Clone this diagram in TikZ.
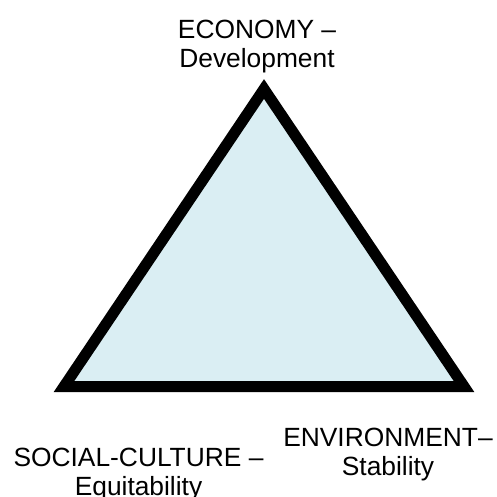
\documentclass[tikz,border=0pt]{standalone}
\usepackage{fontspec}
\setmainfont{Liberation Sans}
\usetikzlibrary{positioning}
\definecolor{paleblue}{HTML}{DAEEF3}

\begin{document}
\begin{tikzpicture}[x=0.02cm,y=-0.02cm,
every node/.style={inner sep=0pt,align=center,anchor=base,
font=\fontsize{15}{16.5}\selectfont}]
\useasboundingbox (0,0) rectangle (497,497);
\coordinate (top) at (264,89);
\coordinate (left) at (64,386.5);
\coordinate (right) at (464,386.5);
\filldraw[fill=paleblue,line width=0.22cm,line join=miter] (top)--(left)--(right)--cycle;
\node (eco) at (257,67) {ECONOMY --\\Development};
\node (soc) at (138.5,495) {SOCIAL-CULTURE --\\Equitability};
\node (env) at (388,475) {ENVIRONMENT--\\Stability};
\end{tikzpicture}
\end{document}
